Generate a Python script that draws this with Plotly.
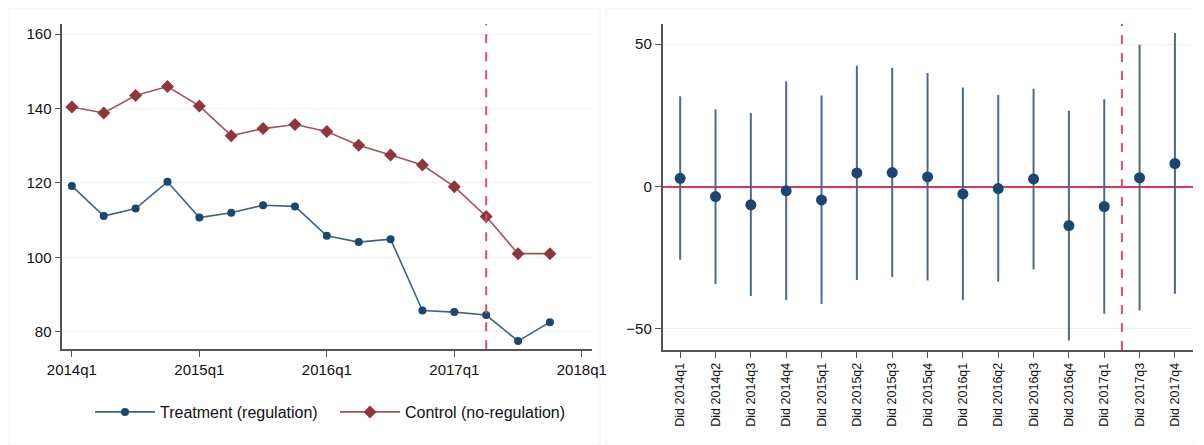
import plotly.graph_objects as go

# ---------------- data ----------------
quarters = ["2014q1", "2014q2", "2014q3", "2014q4", "2015q1", "2015q2", "2015q3", "2015q4",
            "2016q1", "2016q2", "2016q3", "2016q4", "2017q1", "2017q2", "2017q3", "2017q4"]
treatment = [119.2, 111.1, 113.1, 120.3, 110.7, 112.0, 114.0, 113.7,
             105.8, 104.1, 104.9, 85.7, 85.3, 84.5, 77.5, 82.6]
control = [140.4, 138.8, 143.5, 145.9, 140.7, 132.7, 134.6, 135.7,
           133.8, 130.1, 127.5, 124.8, 119.0, 111.0, 101.0, 101.0]
left_xtick_labels = ["2014q1", "2015q1", "2016q1", "2017q1", "2018q1"]
left_xtick_pos = [0, 4, 8, 12, 16]
left_yticks = [80, 100, 120, 140, 160]
policy_quarter = 13  # 2017q2

did_labels = ["Did 2014q1", "Did 2014q2", "Did 2014q3", "Did 2014q4", "Did 2015q1",
              "Did 2015q2", "Did 2015q3", "Did 2015q4", "Did 2016q1", "Did 2016q2",
              "Did 2016q3", "Did 2016q4", "Did 2017q1", "Did 2017q3", "Did 2017q4"]
coef = [2.9, -3.5, -6.4, -1.5, -4.7, 4.8, 4.9, 3.4, -2.6, -0.7, 2.7, -13.7, -7.0, 3.1, 8.1]
ci_upper = [31.7, 27.2, 25.8, 37.0, 32.0, 42.4, 41.7, 39.9, 34.8, 32.2, 34.4, 26.6, 30.7, 49.8, 53.9]
ci_lower = [-25.7, -34.2, -38.4, -39.8, -41.2, -32.8, -31.8, -33.0, -39.9, -33.4, -29.0, -54.1, -44.7, -43.5, -37.6]
right_yticks = [-50, 0, 50]
policy_break = 12.5  # between Did 2017q1 and Did 2017q3

NAVY = "#1a476f"
MAROON = "#90353b"
DASH = "#d9506f"
ZERO = "#dd3355"
GRID = "#e9f1f3"
AXIS = "#555555"
FONT = "Liberation Sans, Arial, sans-serif"

# page body has an 8px margin: lay out in reference pixels, shifted by OFF
OFF = 8
W, H = 1204 - OFF, 445 - OFF
def px_x(a, b):
    return [(a - OFF) / W, (b - OFF) / W]
def px_y(top, bottom):
    return [1 - (bottom - OFF) / H, 1 - (top - OFF) / H]

fig = go.Figure()

qx = list(range(len(quarters)))
fig.add_trace(go.Scatter(
    x=qx, y=treatment, mode="lines+markers", name="Treatment (regulation)",
    line=dict(color="#3d6488", width=1.6),
    marker=dict(color=NAVY, size=8, symbol="circle"),
    xaxis="x", yaxis="y", text=quarters))
fig.add_trace(go.Scatter(
    x=qx, y=control, mode="lines+markers", name="Control (no-regulation)",
    line=dict(color="#a0545a", width=1.6),
    marker=dict(color=MAROON, size=10, symbol="diamond"),
    xaxis="x", yaxis="y", text=quarters))

err_plus = [u - c for u, c in zip(ci_upper, coef)]
err_minus = [c - l for c, l in zip(coef, ci_lower)]
fig.add_trace(go.Scatter(
    x=did_labels, y=coef, mode="markers", showlegend=False,
    marker=dict(color=NAVY, size=11),
    error_y=dict(type="data", symmetric=False, array=err_plus, arrayminus=err_minus,
                 color="#4a6b8e", thickness=2, width=0),
    xaxis="x2", yaxis="y2"))

ly = px_y(24, 349.3)
ry = px_y(24, 350)
shapes = [
    dict(type="line", xref="x", yref="paper", x0=policy_quarter, x1=policy_quarter,
         y0=ly[0], y1=ly[1], line=dict(color=DASH, width=2, dash="dash")),
    dict(type="line", xref="x2", yref="paper", x0=policy_break, x1=policy_break,
         y0=ry[0], y1=ry[1], line=dict(color=DASH, width=2, dash="dash")),
    dict(type="rect", xref="paper", yref="paper", x0=0, x1=(600 - OFF) / W, y0=0, y1=1,
         line=dict(color="#f3f3f3", width=1), layer="below"),
    dict(type="rect", xref="paper", yref="paper", x0=(606 - OFF) / W, x1=1, y0=0, y1=1,
         line=dict(color="#f3f3f3", width=1), layer="below"),
]

tickfont = dict(family=FONT, size=15, color="#111111")

fig.update_layout(
    width=W, height=H,
    margin=dict(l=0, r=0, t=0, b=0, autoexpand=False),
    paper_bgcolor="white", plot_bgcolor="white",
    font=dict(family=FONT, color="#111111"),
    shapes=shapes,
    xaxis=dict(domain=px_x(62.3, 592), range=[-0.3, 16.32], automargin=False,
               tickvals=left_xtick_pos, ticktext=left_xtick_labels,
               showgrid=False, zeroline=False, showline=True, linecolor=AXIS, linewidth=1.5,
               ticks="outside", ticklen=6, tickcolor=AXIS, tickfont=tickfont, anchor="y"),
    yaxis=dict(domain=ly, range=[75.3, 162.7], tickvals=left_yticks, automargin=False,
               showgrid=True, gridcolor=GRID, gridwidth=1.2, zeroline=False,
               showline=True, linecolor=AXIS, linewidth=1.5,
               ticks="outside", ticklen=6, tickcolor=AXIS, tickfont=tickfont, anchor="x"),
    xaxis2=dict(domain=px_x(662.5, 1192.6), range=[-0.5, 14.5], type="category", automargin=False,
                showgrid=False, zeroline=False, showline=True, linecolor=AXIS, linewidth=1.5,
                ticks="outside", ticklen=6, tickcolor=AXIS, tickangle=-90,
                tickfont=dict(family=FONT, size=12.5, color="#111111"), anchor="y2"),
    yaxis2=dict(domain=ry, range=[-57.4, 57.1], tickvals=right_yticks, automargin=False,
                showgrid=True, gridcolor=GRID, gridwidth=1.2,
                zeroline=True, zerolinecolor=ZERO, zerolinewidth=1.6,
                showline=True, linecolor=AXIS, linewidth=1.5,
                ticks="outside", ticklen=6, tickcolor=AXIS, tickfont=tickfont, anchor="x2"),
    legend=dict(orientation="h", x=(90 - OFF) / W, xanchor="left",
                y=1 - (412 - OFF) / H, yanchor="middle",
                font=dict(family=FONT, size=16, color="#111111"),
                bgcolor="rgba(0,0,0,0)", itemwidth=60, entrywidth=170, entrywidthmode="pixels"),
    showlegend=True,
)

fig.write_html("out.html")
